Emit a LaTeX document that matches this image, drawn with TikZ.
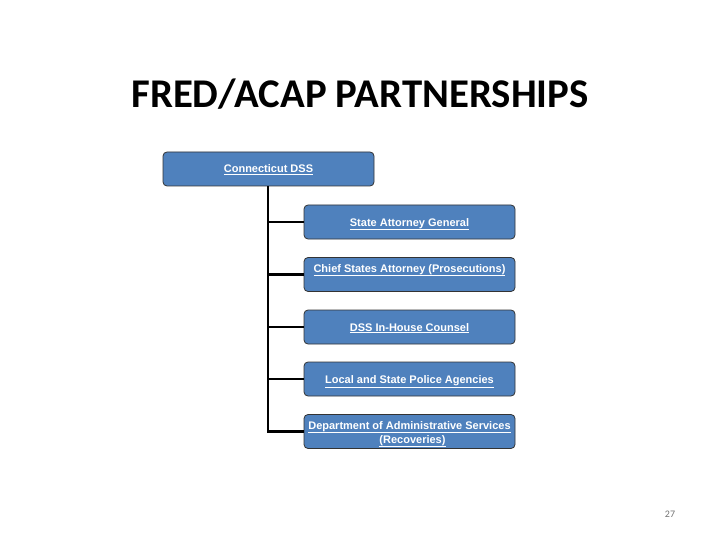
\documentclass[tikz,border=0pt]{standalone}
\usepackage{fontspec}
\setmainfont{Liberation Sans}
\newfontfamily\titlefont{Carlito}
\begin{document}
\begin{tikzpicture}[x=1pt,y=-1pt,
  orgbox/.style={draw=black!80, line width=0.8pt, fill={rgb,255:red,79;green,129;blue,189},
    rounded corners=4pt, minimum width=211pt, minimum height=34pt, inner sep=0pt,
    text=white, font=\fontsize{11}{14}\selectfont\bfseries, align=center,
    text height=11pt, text depth=3pt},
  link/.style={draw=black, line width=2.2pt}]
\useasboundingbox (0,0) rectangle (720,540);
\node[font=\titlefont\fontsize{40.8}{46}\selectfont\bfseries] (title) at (360,94) {FRED/ACAP PARTNERSHIPS};
\node[orgbox] (dss) at (268.5,169) {\underline{Connecticut DSS}};
\node[orgbox] (b1) at (409.5,222) {\underline{State Attorney General}};
\node[orgbox, text height=8pt, text depth=13pt] (b2) at (409.5,274.5) {\underline{Chief States Attorney (Prosecutions)}};
\node[orgbox] (b3) at (409.5,327) {\underline{DSS In-House Counsel}};
\node[orgbox] (b4) at (409.5,379) {\underline{Local and State Police Agencies}};
\node[orgbox, text height=26pt, text depth=3pt] (b5) at (409.5,431.5) {\underline{Department of Administrative Services}\\\hspace*{6pt}\underline{(Recoveries)}};
\coordinate (trunk) at (268,432.5);
\draw[link] (dss.south -| trunk) -- (trunk);
\foreach \b in {b1,b2,b3,b4,b5}{
  \draw[link] (trunk |- \b.west) -- (\b.west);
}
\node[font=\titlefont\fontsize{10}{12}\selectfont, text=black!55] (pg) at (670,514) {27};
\end{tikzpicture}
\end{document}
